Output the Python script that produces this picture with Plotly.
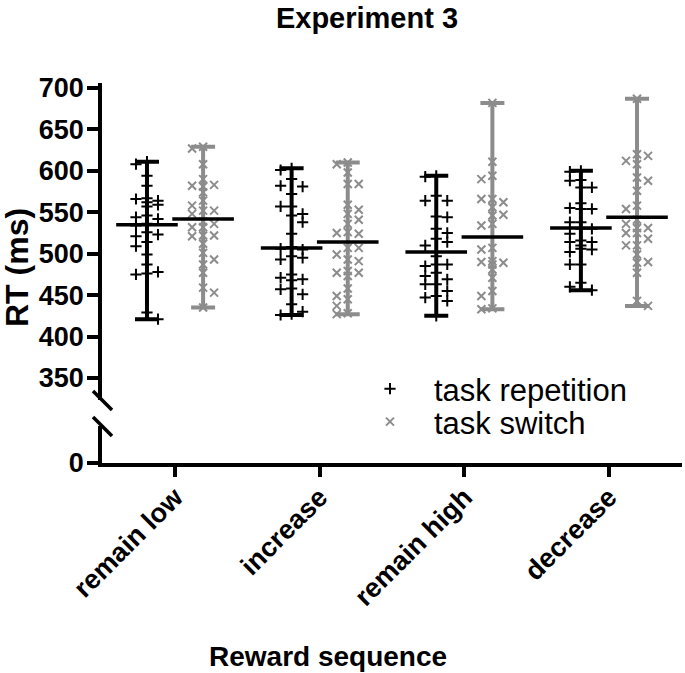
import plotly.graph_objects as go

# ---------------- data ----------------
categories = ["remain low", "increase", "remain high", "decrease"]
series_names = ["task repetition", "task switch"]

rep_remain_low = [611, 608, 594, 582, 567, 566, 564, 562, 559, 557, 546, 542, 544, 534, 536, 526,
                  521, 523, 514, 509, 499, 487, 475, 476, 478, 429, 421]
rep_increase = [603, 601, 590, 581, 582, 572, 557, 557, 546, 548, 538, 524, 505, 508, 506, 495, 493,
                497, 471, 468, 469, 475, 457, 458, 451, 439, 430, 426, 427]
rep_remain_high = [594, 593, 570, 564, 564, 544, 545, 530, 525, 518, 514, 510, 497, 487, 485, 487, 473,
                   477, 469, 463, 463, 455, 447, 443, 449, 425]
rep_decrease = [600, 599, 588, 589, 580, 580, 561, 554, 554, 555, 538, 538, 530, 530, 524, 516, 514,
                514, 510, 505, 502, 506, 487, 487, 465, 460, 456]

sw_remain_low = [629, 627, 608, 590, 582, 583, 581, 574, 564, 558, 552, 552, 548, 536, 539, 532, 532,
                 522, 522, 521, 512, 501, 493, 487, 477, 459, 453, 435]
sw_increase = [610, 608, 598, 584, 584, 553, 559, 548, 536, 541, 525, 526, 524, 507, 507, 491, 493, 499,
               479, 477, 473, 477, 458, 449, 445, 437, 427, 428]
sw_remain_high = [682, 611, 594, 590, 566, 566, 556, 562, 547, 546, 536, 534, 507, 505, 491, 489, 490,
                  487, 481, 471, 455, 449, 433, 434]
sw_decrease = [687, 618, 620, 608, 612, 588, 592, 576, 554, 558, 536, 541, 525, 531, 531, 525, 518, 510,
               510, 499, 489, 490, 477, 437, 443]

mean_rep = [535, 507, 502, 531]
mean_sw = [542, 514, 520, 544]

y_ticks_upper = [350, 400, 450, 500, 550, 600, 650, 700]
y_ticks_lower = [0]

rep_groups = [rep_remain_low, rep_increase, rep_remain_high, rep_decrease]
sw_groups = [sw_remain_low, sw_increase, sw_remain_high, sw_decrease]

# ---------------- layout constants (window pixels) ----------------
W, H = 685, 673
AX_X = 102          # x of the y axis line
PLOT_R = 682        # right end of x axis
PLOT_T = 83         # top of y axis
BASE = 463          # y of x axis line
ML = AX_X
MR = W - PLOT_R
MT = PLOT_T
MB = H - BASE
PLOT_W = PLOT_R - AX_X
PLOT_H = BASE - PLOT_T
X_RANGE = [-0.505, 3.505]
PX_X = PLOT_W / (X_RANGE[1] - X_RANGE[0])
Y_UP_RANGE = [323.4, 706.0]
UP_BOTTOM = 400     # where the upper segment ends
LOW_TOP = 426       # where the lower segment starts
up_dom = [(BASE - UP_BOTTOM) / PLOT_H, 1.0]
PX_Y = (UP_BOTTOM - PLOT_T) / (Y_UP_RANGE[1] - Y_UP_RANGE[0])
low_dom = [0.0, (BASE - LOW_TOP) / PLOT_H]
Y_LOW_RANGE = [0, (BASE - LOW_TOP) / PX_Y]

GROUP_OFF = 0.194
BLACK = "#000000"
GRAY = "#8c8c8c"
FONT = "Liberation Sans, Arial, Helvetica, sans-serif"


def px2paper(px, py):
    return (px - AX_X) / PLOT_W, (BASE - py) / PLOT_H


def swarm(values, center):
    """Deterministic column-scatter placement (pixel based)."""
    order = sorted(range(len(values)), key=lambda i: -values[i])
    placed = []
    xs = [0.0] * len(values)
    step, dmin = 5.5, 7.5
    for n, i in enumerate(order):
        vy = values[i] * PX_Y
        sgn = 1 if n % 2 == 0 else -1
        cands = [0]
        for k in range(1, 4):
            cands += [sgn * k, -sgn * k]
        best, best_hits = 0, None
        for k in cands:
            ox = k * step
            hits = sum(1 for px, py in placed if abs(ox - px) < dmin and abs(vy - py) < dmin)
            if best_hits is None or hits < best_hits:
                best, best_hits = k, hits
            if hits == 0:
                break
        ox = best * step
        placed.append((ox, vy))
        xs[i] = center + ox / PX_X
    return xs


fig = go.Figure()


def add_series(groups, off, name, symbol, color, legend):
    xs, ys = [], []
    for ci, vals in enumerate(groups):
        xs += swarm(vals, ci + off)
        ys += vals
    fig.add_trace(go.Scatter(
        x=xs, y=ys, mode="markers", name=name, xaxis="x", yaxis="y", legend=legend,
        marker=dict(symbol=symbol, size=8, color=color, line=dict(width=2, color=color)),
        showlegend=True, hoverinfo="skip"))


add_series(rep_groups, -GROUP_OFF, series_names[0], "cross-thin", BLACK, "legend")
add_series(sw_groups, GROUP_OFF, series_names[1], "x-thin", GRAY, "legend2")


def add_bars(groups, means, off, color):
    gx = [ci + off for ci in range(len(groups))]
    fig.add_trace(go.Scatter(
        x=gx, y=means, mode="markers", xaxis="x", yaxis="y", showlegend=False, hoverinfo="skip",
        marker=dict(symbol="line-ew", size=44, color=BLACK, line=dict(width=3.5, color=BLACK)),
        error_y=dict(type="data", symmetric=False,
                     array=[max(g) - m for g, m in zip(groups, means)],
                     arrayminus=[m - min(g) for g, m in zip(groups, means)],
                     color=color, thickness=4, width=12)))


add_bars(rep_groups, mean_rep, -GROUP_OFF, BLACK)
add_bars(sw_groups, mean_sw, GROUP_OFF, GRAY)

# empty trace so that the lower (0) axis segment exists as a subplot
fig.add_trace(go.Scatter(x=[None], y=[None], xaxis="x", yaxis="y2", mode="markers",
                         showlegend=False, hoverinfo="skip"))

shapes = []
for (x0, y0, x1, y1) in [(93, 391, 112, 410), (93, 417, 112, 436)]:
    a = px2paper(x0, y0)
    b = px2paper(x1, y1)
    shapes.append(dict(type="line", xref="paper", yref="paper", x0=a[0], y0=a[1], x1=b[0], y1=b[1],
                       line=dict(color=BLACK, width=3.5), layer="above"))

axis_common = dict(showline=True, linewidth=3.5, linecolor=BLACK, ticks="outside", ticklen=11,
                   tickwidth=3.5, tickcolor=BLACK, showgrid=False, zeroline=False,
                   ticklabelstandoff=-2,
                   tickfont=dict(family=FONT, size=27, color=BLACK, weight="bold"))

leg_font = dict(family=FONT, size=31, color=BLACK)
leg_x = (346 - AX_X) / PLOT_W

fig.update_layout(
    width=W, height=H,
    margin=dict(l=ML, r=MR, t=MT, b=MB, pad=0, autoexpand=False),
    paper_bgcolor="white", plot_bgcolor="white",
    font=dict(family=FONT, color=BLACK),
    title=dict(text="Experiment 3", xref="container", x=367 / W, xanchor="center",
               yref="container", y=1 - 18 / H, yanchor="middle",
               font=dict(family=FONT, size=29, color=BLACK, weight="bold")),
    xaxis=dict(domain=[0, 1], range=X_RANGE, anchor="y2", tickvals=list(range(len(categories))),
               ticktext=categories, tickangle=-45, showline=True, linewidth=3.5, linecolor=BLACK,
               ticks="outside", ticklen=10, tickwidth=3.5, tickcolor=BLACK, showgrid=False,
               zeroline=False, ticklabelstandoff=-6,
               tickfont=dict(family=FONT, size=27, color=BLACK, weight="bold")),
    yaxis=dict(domain=up_dom, range=Y_UP_RANGE, anchor="x", tickvals=y_ticks_upper, **axis_common),
    yaxis2=dict(domain=low_dom, range=Y_LOW_RANGE, anchor="x", tickvals=y_ticks_lower, **axis_common),
    legend=dict(x=leg_x, y=(BASE - 362) / PLOT_H, xanchor="left", yanchor="top",
                bgcolor="rgba(0,0,0,0)", itemwidth=78, font=leg_font),
    legend2=dict(x=leg_x, y=(BASE - 395) / PLOT_H, xanchor="left", yanchor="top",
                 bgcolor="rgba(0,0,0,0)", itemwidth=78, font=leg_font),
    shapes=shapes,
    annotations=[
        dict(text="Reward sequence", xref="paper", yref="paper",
             x=(327.5 - AX_X) / PLOT_W, y=(BASE - 656) / PLOT_H, showarrow=False,
             xanchor="center", yanchor="middle",
             font=dict(family=FONT, size=28, color=BLACK, weight="bold")),
        dict(text="RT (ms)", xref="paper", yref="paper", textangle=-90,
             x=(17 - AX_X) / PLOT_W, y=(BASE - 268) / PLOT_H, showarrow=False,
             xanchor="center", yanchor="middle",
             font=dict(family=FONT, size=32, color=BLACK, weight="bold")),
    ],
)

# remove the browser's default 8 px page margin so the figure fills the window
fig.write_html("out.html", config={"displayModeBar": False},
               post_script="document.body.style.margin='0px';")
